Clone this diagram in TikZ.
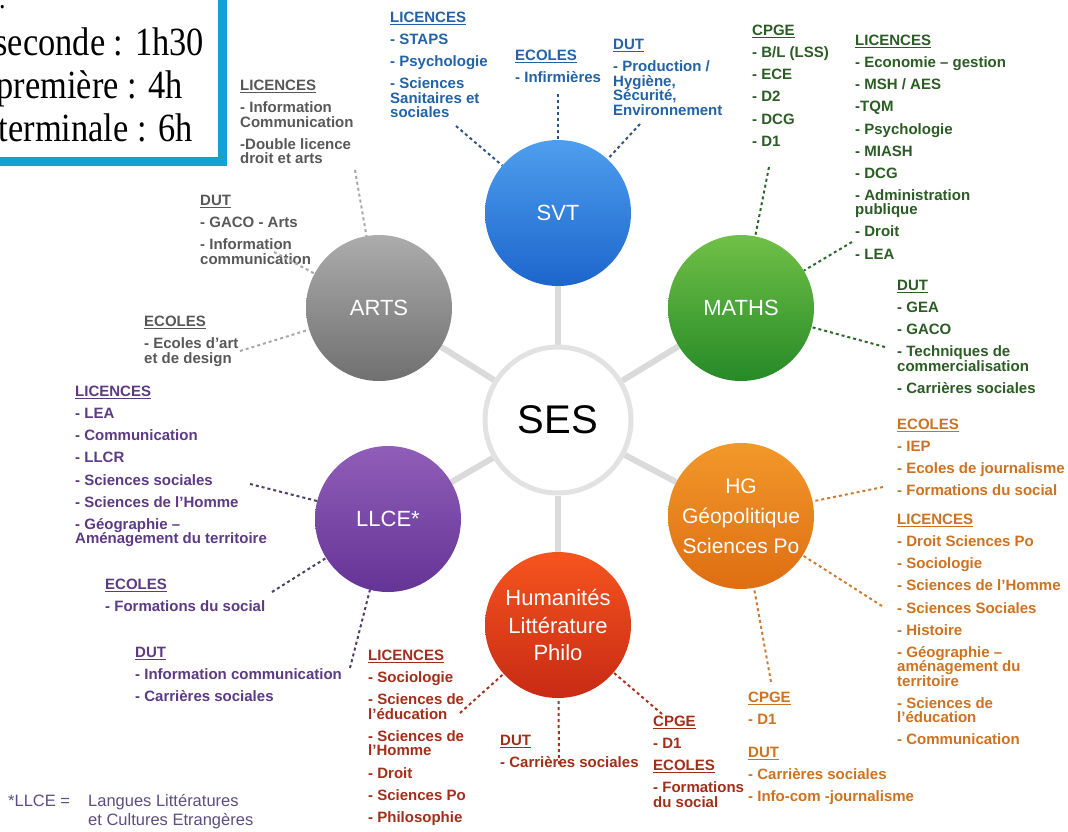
\documentclass[tikz,border=0pt]{standalone}
\usepackage{fontspec}
\setmainfont{Liberation Sans}
\newfontfamily\boxserif{Liberation Serif}[FakeStretch=0.86]
\usetikzlibrary{backgrounds}

\definecolor{boxblue}{RGB}{18,162,214}
\definecolor{spokegray}{RGB}{218,218,218}
\definecolor{sesring}{RGB}{226,226,226}
\definecolor{svtT}{RGB}{78,158,238}
\definecolor{svtB}{RGB}{28,102,204}
\definecolor{mathsT}{RGB}{112,192,70}
\definecolor{mathsB}{RGB}{38,138,40}
\definecolor{artsT}{RGB}{172,172,172}
\definecolor{artsB}{RGB}{112,112,112}
\definecolor{llceT}{RGB}{144,94,184}
\definecolor{llceB}{RGB}{100,52,150}
\definecolor{hgT}{RGB}{242,152,42}
\definecolor{hgB}{RGB}{222,110,18}
\definecolor{humT}{RGB}{246,84,30}
\definecolor{humB}{RGB}{200,42,20}
\definecolor{svtX}{RGB}{34,98,165}
\definecolor{mathsX}{RGB}{42,92,36}
\definecolor{artsX}{RGB}{88,88,88}
\definecolor{llceX}{RGB}{92,58,132}
\definecolor{hgX}{RGB}{204,114,32}
\definecolor{humX}{RGB}{162,46,26}
\definecolor{svtD}{RGB}{44,84,132}
\definecolor{mathsD}{RGB}{44,104,44}
\definecolor{artsD}{RGB}{168,168,168}
\definecolor{llceD}{RGB}{78,62,104}
\definecolor{hgD}{RGB}{206,124,52}
\definecolor{humD}{RGB}{164,52,32}
\definecolor{noteX}{RGB}{92,78,128}

\newcommand\labfont{\fontsize{15}{14.5}\selectfont\bfseries\lineskiplimit=-20pt\relax}
\newcommand\hdg[1]{\setbox0\hbox{#1}\rlap{\rule[-2.2pt]{\wd0}{1.1pt}}\box0}
\newcommand\nl{\\[7.6pt]}

\begin{document}
\begin{tikzpicture}[x=1pt,y=-1pt,
  spoke/.style={line width=6pt, draw=spokegray},
  subj/.style={circle, minimum size=146pt, inner sep=0pt, text=white, align=center,
    font=\fontsize{22}{27.5}\selectfont},
  lbl/.style={anchor=north west, inner sep=0pt, align=left, font=\labfont},
  conn/.style={line width=2pt, dash pattern=on 3pt off 3pt},
  boxtext/.style={anchor=base east, inner sep=0pt, font=\boxserif\fontsize{40}{40}\selectfont},
  note/.style={anchor=base west, inner sep=0pt, text=noteX,
    font=\fontsize{16.5}{19}\selectfont}
]
\useasboundingbox (0,0) rectangle (1068,831);

% top-left box
\draw[line width=9pt, draw=boxblue] (-10,-10) rectangle (222,161);
\node[anchor=base west, inner sep=0pt, font=\boxserif\fontsize{30}{30}\selectfont] (frag) at (-1,8) {.};
\node[boxtext] (l2nde) at (204,55) {seconde : 1h30};
\node[boxtext] (l1re) at (183,98) {première : 4h};
\node[boxtext] (lterm) at (193,141) {terminale : 6h};

% subject circles
\node[circle, minimum size=146pt, inner sep=0pt, fill=white, draw=sesring, line width=5pt,
  font=\fontsize{40}{40}\selectfont] (ses) at (558,420) {SES};
\node[subj, top color=svtT, bottom color=svtB] (svt) at (558,213) {SVT};
\node[subj, top color=mathsT, bottom color=mathsB] (maths) at (741,308) {MATHS};
\node[subj, top color=hgT, bottom color=hgB, font=\fontsize{21}{30}\selectfont] (hg) at (741,516) {HG\\Géopolitique\\Sciences Po};
\node[subj, top color=humT, bottom color=humB] (hum) at (558,625) {Humanités\\Littérature\\Philo};
\node[subj, top color=llceT, bottom color=llceB] (llce) at (388,519) {LLCE*};
\node[subj, top color=artsT, bottom color=artsB] (arts) at (379,308) {ARTS};

\begin{scope}[on background layer]
\foreach \n in {svt,maths,hg,hum,llce,arts} \draw[spoke] (ses) -- (\n);
\end{scope}

% SVT labels
\node[lbl, text=svtX] (svtLic) at (390,12) {\hdg{LICENCES}\nl - STAPS\nl - Psychologie\nl - Sciences\\Sanitaires et\\sociales};
\node[lbl, text=svtX] (svtEco) at (515,50) {\hdg{ECOLES}\nl - Infirmières};
\node[lbl, text=svtX] (svtDut) at (613,39) {\hdg{DUT}\nl - Production /\\Hygiène,\\Sécurité,\\Environnement};
\coordinate (svtLicE) at (456,126);
\coordinate (svtEcoE) at (558,94);
\coordinate (svtDutE) at (640,124);
\draw[conn, draw=svtD] (svtLicE) -- (svt);
\draw[conn, draw=svtD] (svtEcoE) -- (svt);
\draw[conn, draw=svtD] (svtDutE) -- (svt);

% MATHS labels
\node[lbl, text=mathsX] (mCpge) at (752,25) {\hdg{CPGE}\nl - B/L (LSS)\nl - ECE\nl - D2\nl - DCG\nl - D1};
\node[lbl, text=mathsX] (mLic) at (855,35) {\hdg{LICENCES}\nl - Economie – gestion\nl - MSH / AES\nl -TQM\nl - Psychologie\nl - MIASH\nl - DCG\nl - Administration\\publique\nl - Droit\nl - LEA};
\node[lbl, text=mathsX] (mDut) at (897,280) {\hdg{DUT}\nl - GEA\nl - GACO\nl - Techniques de\\commercialisation\nl - Carrières sociales};
\coordinate (mCpgeE) at (769,167);
\coordinate (mLicE) at (852,242);
\coordinate (mDutE) at (885,347);
\draw[conn, draw=mathsD] (mCpgeE) -- (maths);
\draw[conn, draw=mathsD] (mLicE) -- (maths);
\draw[conn, draw=mathsD] (mDutE) -- (maths);

% ARTS labels
\node[lbl, text=artsX] (aLic) at (240,80) {\hdg{LICENCES}\nl - Information\\Communication\nl -Double licence\\droit et arts};
\node[lbl, text=artsX] (aDut) at (200,195) {\hdg{DUT}\nl - GACO - Arts\nl - Information\\communication};
\node[lbl, text=artsX] (aEco) at (144,316) {\hdg{ECOLES}\nl - Ecoles d’art\\et de design};
\coordinate (aLicE) at (355,170);
\coordinate (aDutE) at (274,252);
\coordinate (aEcoE) at (240,351);
\draw[conn, draw=artsD] (aLicE) -- (arts);
\draw[conn, draw=artsD] (aDutE) -- (arts);
\draw[conn, draw=artsD] (aEcoE) -- (arts);

% LLCE labels
\node[lbl, text=llceX] (lLic) at (75,386) {\hdg{LICENCES}\nl - LEA\nl - Communication\nl - LLCR\nl - Sciences sociales\nl - Sciences de l’Homme\nl - Géographie –\\Aménagement du territoire};
\node[lbl, text=llceX] (lEco) at (105,579) {\hdg{ECOLES}\nl - Formations du social};
\node[lbl, text=llceX] (lDut) at (135,647) {\hdg{DUT}\nl - Information communication\nl - Carrières sociales};
\coordinate (lLicE) at (250,484);
\coordinate (lEcoE) at (272,592);
\coordinate (lDutE) at (350,668);
\draw[conn, draw=llceD] (lLicE) -- (llce);
\draw[conn, draw=llceD] (lEcoE) -- (llce);
\draw[conn, draw=llceD] (lDutE) -- (llce);

% HG labels
\node[lbl, text=hgX] (hEco) at (897,419) {\hdg{ECOLES}\nl - IEP\nl - Ecoles de journalisme\nl - Formations du social};
\node[lbl, text=hgX] (hLic) at (897,514) {\hdg{LICENCES}\nl - Droit Sciences Po\nl - Sociologie\nl - Sciences de l’Homme\nl - Sciences Sociales\nl - Histoire\nl - Géographie –\\aménagement du\\territoire\nl - Sciences de\\l’éducation\nl - Communication};
\node[lbl, text=hgX] (hCpge) at (748,692) {\hdg{CPGE}\nl - D1};
\node[lbl, text=hgX] (hDut) at (748,747) {\hdg{DUT}\nl - Carrières sociales\nl - Info-com -journalisme};
\coordinate (hEcoE) at (883,487);
\coordinate (hLicE) at (882,606);
\coordinate (hCpgeE) at (771,682);
\draw[conn, draw=hgD] (hEcoE) -- (hg);
\draw[conn, draw=hgD] (hLicE) -- (hg);
\draw[conn, draw=hgD] (hCpgeE) -- (hg);

% Humanites labels
\node[lbl, text=humX] (huLic) at (368,650) {\hdg{LICENCES}\nl - Sociologie\nl - Sciences de\\l’éducation\nl - Sciences de\\l’Homme\nl - Droit\nl - Sciences Po\nl - Philosophie};
\node[lbl, text=humX] (huDut) at (500,735) {\hdg{DUT}\nl - Carrières sociales};
\node[lbl, text=humX] (huCpge) at (653,716) {\hdg{CPGE}\nl - D1\nl \hdg{ECOLES}\nl - Formations\\du social};
\coordinate (huLicE) at (460,713);
\coordinate (huDutE) at (559,764);
\coordinate (huCpgeE) at (662,714);
\draw[conn, draw=humD] (huLicE) -- (hum);
\draw[conn, draw=humD] (huDutE) -- (hum);
\draw[conn, draw=humD] (huCpgeE) -- (hum);

% footnote
\node[note] (fnA) at (8,806) {*LLCE =};
\node[note] (fnB) at (88,806) {Langues Littératures};
\node[note] (fnC) at (88,825) {et Cultures Etrangères};
\end{tikzpicture}
\end{document}
